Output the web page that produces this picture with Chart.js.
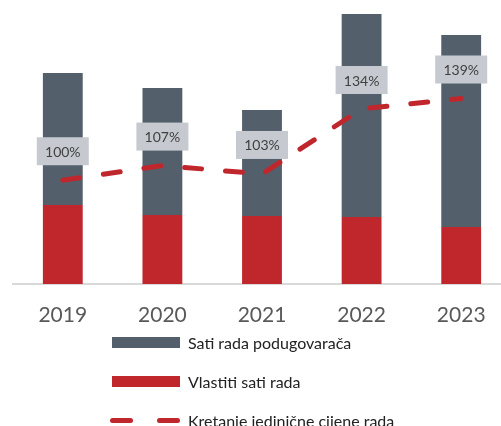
<!DOCTYPE html>
<html>
<head>
<meta charset="utf-8">
<script src="https://cdn.jsdelivr.net/npm/chart.js@4.4.1/dist/chart.umd.min.js"></script>
<style>
  body { margin: 0; background: #fff; overflow: hidden; font-family: Lato, "Open Sans", sans-serif; }
  #wrap { position: relative; width: 511px; height: 330px; }
  #legenda { position: absolute; left: 110px; top: 323px; }
  .red { display: flex; align-items: center; height: 39px; font-size: 16px; color: #222; }
  .kutija { width: 68px; height: 11px; margin: 0 8px 0 2px; }
  .crta { width: 23px; height: 5px; border-radius: 3px; display: inline-block; }
</style>
</head>
<body>
<div id="wrap"><canvas id="grafikon" width="511" height="330"></canvas></div>
<div id="legenda"></div>
<script>
// podaci (procjena s grafikona)
const godine = ['2019', '2020', '2021', '2022', '2023'];
const vlastitiSati = [79, 69, 68, 67, 57];
const satiPodugovaraca = [132, 127, 106, 203, 192];
const cijenaRada = [100, 107, 103, 134, 139];

const crvena = '#c0272d';
const siva = '#535f6b';

const oznakePlugin = {
  id: 'oznake',
  afterDatasetsDraw(chart) {
    const ctx = chart.ctx;
    const meta = chart.getDatasetMeta(2);
    ctx.save();
    ctx.font = '14px Lato';
    ctx.textAlign = 'center';
    ctx.textBaseline = 'middle';
    meta.data.forEach((tocka, i) => {
      const x = tocka.x;
      const y = tocka.y - 29;
      ctx.fillStyle = '#c6cad0';
      ctx.fillRect(x - 26, y - 14, 52, 28);
      ctx.fillStyle = '#404040';
      ctx.fillText(cijenaRada[i] + '%', x, y + 1);
    });
    ctx.restore();
  }
};

const ctx = document.getElementById('grafikon').getContext('2d');
const chart = new Chart(ctx, {
  type: 'bar',
  data: {
    labels: godine,
    datasets: [
      {
        label: 'Vlastiti sati rada',
        data: vlastitiSati,
        backgroundColor: crvena,
        order: 1,
        stack: 's'
      },
      {
        label: 'Sati rada podugovarača',
        data: satiPodugovaraca,
        backgroundColor: siva,
        order: 1,
        stack: 's'
      },
      {
        type: 'line',
        label: 'Kretanje jedinične cijene rada',
        data: cijenaRada,
        yAxisID: 'y1',
        borderColor: crvena,
        borderWidth: 5,
        borderDash: [17, 24],
        borderCapStyle: 'round',
        pointRadius: 0,
        fill: false,
        tension: 0,
        order: 0
      }
    ]
  },
  options: {
    responsive: false,
    animation: false,
    layout: { padding: { left: 13, right: 0, top: 0, bottom: 0 } },
    datasets: { bar: { categoryPercentage: 1, barPercentage: 0.4 } },
    plugins: {
      legend: { display: false },
      tooltip: { enabled: false }
    },
    scales: {
      x: {
        stacked: true,
        grid: { display: false },
        border: { display: true, color: '#d9d9d9', width: 2 },
        ticks: { color: '#595959', font: { family: 'Lato', size: 21 }, padding: 11 },
        afterFit(scale) { scale.height = 46; }
      },
      y: {
        stacked: true,
        display: false,
        min: 0,
        max: 284
      },
      y1: {
        display: false,
        min: 50.5,
        max: 186
      }
    }
  },
  plugins: [oznakePlugin]
});

// legenda
const legenda = document.getElementById('legenda');
const stavke = [
  { tekst: chart.data.datasets[1].label, boja: siva, tip: 'kutija' },
  { tekst: chart.data.datasets[0].label, boja: crvena, tip: 'kutija' },
  { tekst: chart.data.datasets[2].label, boja: crvena, tip: 'crta' }
];
stavke.forEach(s => {
  const red = document.createElement('div');
  red.className = 'red';
  if (s.tip === 'kutija') {
    const k = document.createElement('span');
    k.className = 'kutija';
    k.style.background = s.boja;
    red.appendChild(k);
  } else {
    const k = document.createElement('span');
    k.style.display = 'inline-flex';
    k.style.width = '70px';
    k.style.margin = '0 8px 0 0';
    k.style.justifyContent = 'space-between';
    for (let j = 0; j < 2; j++) {
      const c = document.createElement('span');
      c.className = 'crta';
      c.style.background = s.boja;
      k.appendChild(c);
    }
    red.appendChild(k);
  }
  const t = document.createElement('span');
  t.textContent = s.tekst;
  red.appendChild(t);
  legenda.appendChild(red);
});
</script>
</body>
</html>
